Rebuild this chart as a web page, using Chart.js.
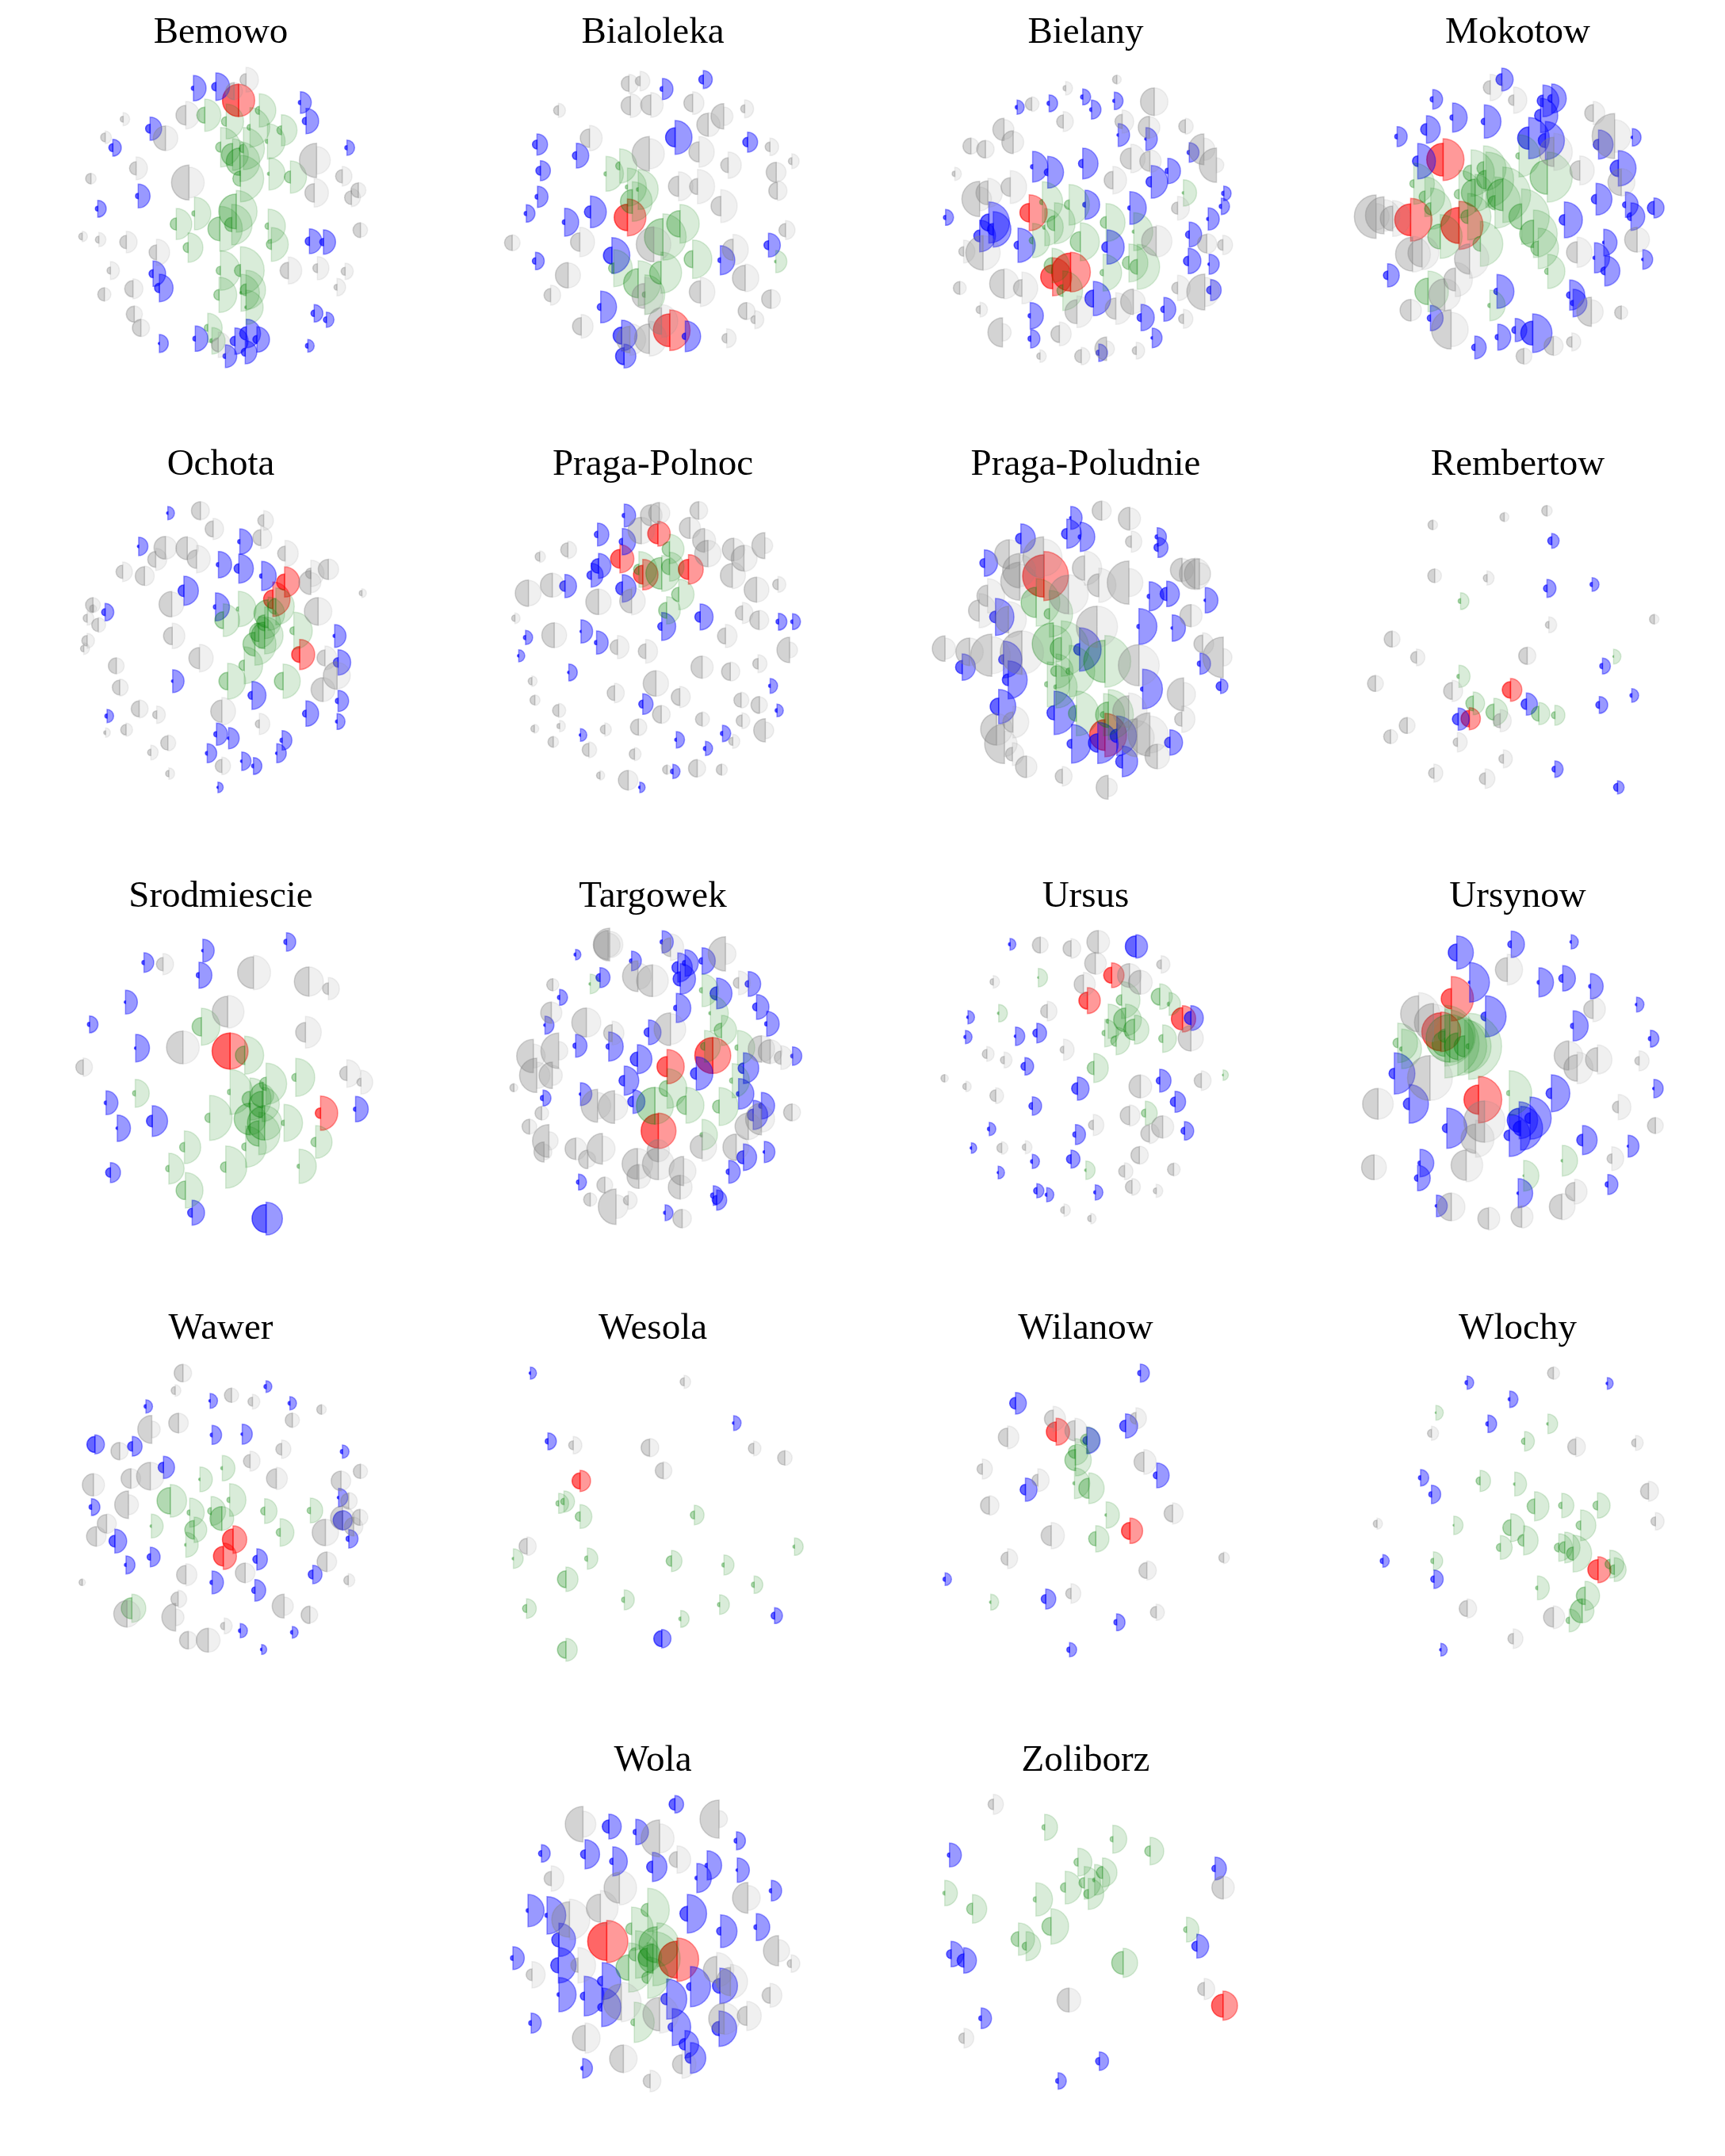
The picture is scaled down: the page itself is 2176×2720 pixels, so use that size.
<!DOCTYPE html>
<html>
<head>
<meta charset="utf-8">
<title>Warsaw districts</title>
<script src="https://cdn.jsdelivr.net/npm/chart.js@4"></script>
<style>
  body { margin: 0; background: #fff; }
  canvas { position: absolute; }
</style>
</head>
<body>
<script>
const districts = ["Bemowo","Bialoleka","Bielany","Mokotow","Ochota","Praga-Polnoc","Praga-Poludnie","Rembertow","Srodmiescie","Targowek","Ursus","Ursynow","Wawer","Wesola","Wilanow","Wlochy","Wola","Zoliborz"];

const bemowoGrey = [[751,302,23,47],[523,436,37,52],[286,451,11,25],[218,520,17,24],[446,523,46,47],[335,637,25,43],[164,676,20,20],[535,691,66,58],[1018,607,65,52],[1115,667,25,37],[1176,720,28,29],[1150,748,26,34],[1009,730,35,54],[1184,871,28,27],[131,895,13,20],[194,907,13,27],[298,916,25,41],[412,955,28,50],[911,1024,31,51],[1021,1015,17,44],[1126,1027,15,31],[1095,1087,11,33],[238,1024,13,34],[323,1093,31,38],[215,1114,25,25],[328,1189,30,31],[353,1241,32,33],[646,1305,26,48],[706,345,32,32]];
const bemowoGreen = [[595,436,30,61],[676,460,18,66],[801,418,15,63],[766,482,11,75],[885,493,17,59],[655,557,19,75],[741,562,16,80],[832,535,8,67],[700,585,42,60],[728,612,52,75],[730,676,29,88],[838,658,6,61],[919,670,23,61],[714,800,66,79],[697,850,27,77],[556,808,10,62],[487,848,23,59],[652,866,45,85],[835,856,12,65],[847,925,19,64],[532,937,19,56],[654,1024,16,75],[730,1024,23,90],[649,1116,20,67],[751,1097,22,74],[732,1108,5,70],[751,1163,5,65],[606,1241,13,55],[622,1290,8,50]];
const bemowoBlue = [[552,334,8,48],[637,328,16,52],[957,388,8,41],[978,458,14,48],[388,487,17,44],[247,559,15,32],[1133,559,8,29],[343,742,10,45],[190,790,9,32],[991,913,16,47],[1044,916,14,46],[399,1036,15,48],[423,1090,18,52],[1009,1186,12,33],[1055,1210,11,29],[423,1300,4,34],[559,1282,9,48],[752,1262,25,54],[709,1291,18,50],[792,1285,15,48],[673,1348,9,43],[748,1333,15,44],[985,1309,9,24]];
const bemowoRed = [[723,380,61,61]];

const bialolekaGrey = [[283,107,29,36],[306,97,18,37],[286,190,35,45],[328,187,38,47],[414,180,33,43],[138,208,18,27],[478,230,48,35],[446,262,43,45],[521,202,15,34],[202,313,35,48],[325,372,65,57],[427,365,38,58],[573,346,18,33],[487,415,28,50],[618,400,13,28],[586,442,38,37],[588,512,32,37],[385,495,38,55],[424,496,30,65],[472,570,37,62],[605,661,25,36],[43,709,29,30],[182,706,35,56],[334,715,66,65],[497,735,40,58],[158,832,48,47],[522,842,48,52],[122,907,25,38],[430,895,42,55],[315,910,47,70],[575,922,35,36],[525,967,32,32],[542,1000,15,34],[185,1025,33,45],[350,1005,50,62],[325,1072,56,66],[484,1070,18,36],[285,1075,50,60]];
const bialolekaGreen = [[236,448,8,66],[264,418,15,65],[280,498,8,72],[302,507,7,76],[290,553,45,75],[353,687,70,88],[388,637,50,73],[414,771,32,73],[585,780,5,42],[349,822,43,78],[252,805,20,70],[302,862,55,85],[316,905,10,75]];
const bialolekaBlue = [[436,91,17,34],[352,127,9,40],[378,310,36,64],[527,328,18,38],[94,337,17,40],[175,379,15,47],[101,436,17,38],[95,535,9,40],[72,598,8,33],[204,592,23,60],[151,631,9,53],[248,757,32,68],[91,778,12,33],[570,718,17,45],[471,775,9,55],[225,952,13,60],[268,1060,32,58],[399,1063,12,58],[273,1138,32,45]];
const bialolekaRed = [[280,613,50,70],[367,1040,62,77]];

const bielanyGrey = [[1285,91,16,17],[1180,124,10,26],[1110,184,24,28],[1362,175,52,52],[1175,250,25,38],[1053,280,42,38],[1072,328,43,40],[1296,250,27,44],[1352,272,42,40],[1426,268,25,30],[985,343,30,30],[1015,355,33,33],[1464,355,58,42],[1490,415,65,28],[1314,390,40,54],[1353,400,38,43],[952,448,10,25],[1277,472,33,52],[1066,498,35,62],[1003,543,67,45],[1020,520,45,55],[1410,578,23,45],[1366,703,55,60],[1010,747,65,65],[970,742,18,43],[1470,712,35,38],[1503,717,20,37],[1053,864,54,57],[1090,880,32,60],[962,880,24,25],[1410,880,22,48],[1466,895,68,55],[1203,970,45,60],[1283,958,40,60],[1319,932,48,45],[1004,962,15,28],[1422,997,18,36],[1050,1048,55,33],[1167,1054,32,45],[1264,1110,44,30],[1127,1138,12,24],[1212,1138,25,33],[1325,1117,15,32]];
const bielanyGreen = [[1132,555,10,77],[1187,565,18,77],[1422,520,5,50],[1263,632,22,72],[1157,635,28,78],[1137,650,8,70],[1210,705,38,72],[1320,667,6,72],[1112,700,13,65],[1152,795,30,65],[1257,822,12,70],[1310,785,25,72],[1327,800,28,85],[1174,890,22,75]];
const bielanyBlue = [[1080,196,7,27],[1146,181,8,32],[1215,157,8,30],[1233,205,7,36],[1280,172,6,33],[1288,301,5,43],[1345,316,5,43],[1434,367,8,37],[1112,421,8,58],[1143,442,13,60],[1215,409,16,58],[1390,437,10,48],[1356,478,20,62],[1505,522,8,28],[1500,571,8,31],[1220,565,9,55],[1312,577,8,62],[933,613,8,30],[1022,632,32,78],[1031,658,22,67],[1003,683,22,60],[1473,619,6,42],[1434,678,14,47],[1082,718,15,65],[1265,725,20,65],[1432,778,18,48],[1475,790,5,38],[1478,888,15,40],[1237,920,32,65],[1107,985,8,50],[1382,961,12,45],[1335,992,15,50],[1108,1072,10,35],[1358,1069,5,37],[1248,1125,10,33]];
const bielanyRed = [[1105,595,35,68],[1153,838,45,72],[1190,820,72,75]];

const mokotowGrey = [[569,121,26,50],[658,169,20,50],[959,218,32,44],[1040,305,85,62],[908,435,37,55],[1065,480,50,52],[810,365,55,70],[137,610,82,50],[167,605,70,60],[200,617,47,68],[275,752,64,68],[311,747,53,64],[491,770,57,73],[437,848,43,65],[397,905,60,60],[898,745,40,57],[1125,697,47,47],[269,964,41,40],[421,1037,74,65],[952,970,55,45],[1065,973,25,25],[808,1099,35,37],[878,1084,20,34],[696,1138,29,31]];
const mokotowGreen = [[280,485,15,78],[322,535,22,75],[344,580,23,78],[380,685,47,83],[497,445,30,88],[544,427,25,85],[553,470,35,105],[512,520,52,70],[451,525,18,90],[484,610,26,88],[617,527,60,105],[587,557,27,97],[678,380,12,80],[785,460,65,95],[688,610,48,105],[733,675,52,90],[751,730,28,77],[787,817,12,65],[532,713,28,85],[334,893,50,77],[568,946,8,58]];
const mokotowBlue = [[613,91,22,43],[352,166,10,37],[427,235,10,55],[547,250,12,63],[328,280,22,52],[217,307,9,38],[769,172,22,60],[802,163,15,55],[760,227,23,65],[715,313,42,78],[778,322,27,72],[979,337,20,55],[1107,310,5,33],[295,400,20,67],[1054,427,31,67],[970,544,18,60],[1081,565,11,48],[1102,610,15,52],[1189,577,25,38],[850,622,20,68],[999,708,5,50],[964,766,6,57],[1003,815,15,57],[1147,772,5,37],[181,832,16,44],[595,893,12,64],[870,907,12,57],[883,937,10,52],[343,994,12,48],[511,1105,12,43],[598,1066,10,49],[664,1039,13,44],[730,1051,45,73]];
const mokotowRed = [[391,394,62,79],[268,622,60,81],[451,643,68,91]];

const ochotaGrey = [[298,73,34,34],[324,142,30,40],[428,110,22,37],[422,175,30,42],[226,213,43,43],[206,257,30,42],[271,215,43,42],[290,256,35,52],[472,235,28,50],[138,304,25,37],[183,320,35,37],[525,345,45,38],[561,295,38,39],[525,310,20,50],[239,427,48,46],[540,454,52,52],[77,430,28,28],[78,443,14,12],[65,480,15,26],[88,505,25,28],[240,547,33,48],[65,565,20,28],[58,595,12,22],[296,631,40,52],[125,660,30,30],[554,630,30,45],[579,697,52,50],[550,750,45,45],[132,742,28,32],[172,823,30,34],[208,845,15,33],[342,832,42,52],[419,880,15,40],[145,902,20,25],[103,913,7,18],[231,952,27,30],[196,988,12,28],[342,1039,25,33],[233,1068,12,22],[630,385,10,17]];
const ochotaGreen = [[376,445,8,67],[345,487,32,62],[437,463,53,63],[453,435,30,70],[490,527,15,70],[418,533,35,60],[430,545,50,70],[410,578,45,80],[388,658,20,70],[354,718,33,68],[468,718,33,65],[430,497,30,60]];
const ochotaBlue = [[231,82,5,25],[171,208,5,35],[379,190,8,48],[335,277,8,50],[377,292,18,55],[424,320,8,55],[264,376,22,55],[329,437,8,53],[102,457,13,33],[574,547,6,43],[581,647,18,48],[241,718,5,43],[404,772,15,53],[581,793,10,40],[515,841,13,48],[106,850,8,25],[579,871,6,30],[331,919,10,42],[356,934,5,40],[466,942,8,37],[312,991,7,36],[455,991,5,36],[383,1021,5,35],[407,1039,7,32],[334,1120,4,20]];
const ochotaRed = [[471,343,30,57],[447,408,35,65],[502,617,30,57]];

const pragaPolnocGrey = [[1242,82,40,40],[1225,90,40,42],[1323,72,33,34],[1205,148,50,50],[1305,138,40,40],[1335,185,45,42],[1342,235,50,50],[1395,220,43,42],[1416,253,48,50],[1459,205,49,30],[996,247,17,22],[1054,221,27,33],[1392,318,45,50],[1022,355,45,45],[973,385,50,48],[1117,418,48,48],[1185,415,45,52],[1442,372,47,47],[1486,352,20,30],[1413,460,27,40],[1447,487,35,37],[945,480,12,20],[1026,544,47,47],[1378,547,30,44],[1156,589,28,44],[1214,605,28,45],[1510,600,48,30],[1330,665,42,42],[1445,652,20,34],[1388,682,33,36],[980,718,14,20],[1235,727,48,48],[1150,763,28,37],[1284,778,32,40],[1410,790,27,30],[1448,808,32,30],[986,790,18,20],[1035,829,23,27],[1246,844,33,34],[1412,868,22,30],[1330,862,25,28],[1199,892,30,32],[1460,904,44,32],[985,898,13,17],[1037,888,10,22],[1130,901,17,25],[1393,946,15,27],[1024,948,20,20],[1097,978,25,30],[1191,994,20,25],[1320,1048,33,32],[1370,1053,20,22],[1258,1053,17,17],[1120,1075,13,18],[1178,1093,37,37]];
const pragaPolnocGreen = [[1200,295,20,68],[1263,218,28,55],[1247,310,60,68],[1263,285,30,55],[1282,390,27,58],[1257,450,30,52]];
const pragaPolnocBlue = [[1170,91,8,43],[1115,163,12,43],[1166,190,12,50],[1117,282,28,47],[1102,317,16,45],[1048,358,20,44],[1166,367,25,52],[1326,475,20,49],[1247,511,15,53],[1487,493,9,32],[1516,493,7,30],[967,553,8,27],[1081,530,4,44],[1113,572,8,44],[953,622,5,23],[1056,685,5,32],[1470,736,6,28],[1208,805,15,39],[1484,829,7,24],[1372,916,8,31],[1277,940,6,31],[1337,973,8,27],[1080,922,5,24],[1270,1060,9,27],[1202,1120,5,20]];
const pragaPolnocRed = [[1239,160,38,47],[1161,255,35,53],[1208,315,35,58],[1302,295,38,56]];

const pragaPoludnieGrey = [[718,73,36,36],[824,103,43,41],[830,190,22,40],[368,238,55,55],[498,250,78,70],[408,300,65,60],[408,340,72,65],[653,290,46,65],[707,355,43,65],[821,345,82,53],[1022,297,44,43],[1070,312,58,60],[1088,312,57,42],[286,395,40,65],[254,451,40,65],[592,390,73,75],[365,485,50,68],[700,512,78,78],[125,595,48,40],[218,607,52,52],[302,620,80,70],[416,610,82,82],[859,658,78,77],[1056,470,42,42],[1100,577,33,42],[1178,628,77,33],[1028,768,62,45],[1021,862,27,50],[820,833,60,70],[382,873,38,60],[320,900,60,60],[350,955,75,48],[380,994,26,43],[433,1042,41,40],[569,1078,27,37],[742,1120,45,35],[928,1003,46,47],[852,932,72,65],[900,920,82,70]];
const pragaPoludnieGreen = [[470,420,57,90],[520,463,20,88],[535,577,80,70],[565,595,42,105],[545,680,20,65],[512,730,10,85],[595,680,12,97],[622,840,30,85],[730,643,80,98],[743,845,48,95],[725,845,12,80],[545,740,8,80]];
const pragaPoludnieBlue = [[601,100,5,43],[586,160,20,55],[637,172,8,55],[412,178,20,55],[928,172,8,35],[931,212,15,38],[274,271,17,50],[898,397,8,55],[964,388,25,48],[1110,412,5,48],[859,511,8,68],[985,517,5,50],[316,475,22,70],[634,598,22,82],[190,665,25,50],[346,636,18,70],[1090,652,10,40],[364,713,22,72],[873,748,8,75],[1168,737,17,28],[328,814,32,65],[538,838,27,82],[976,950,20,48],[604,955,17,73],[703,952,35,78],[775,925,25,75],[796,1022,25,58]];
const pragaPoludnieRed = [[499,320,80,93],[730,922,58,82]];

const rembertowGrey = [[352,127,18,18],[622,97,16,18],[784,73,20,20],[359,319,26,26],[557,328,14,27],[198,559,30,30],[1190,484,18,18],[791,505,13,30],[709,622,32,33],[290,628,22,32],[135,727,30,30],[425,755,32,40],[255,886,30,30],[192,928,26,27],[445,949,16,37],[607,868,27,42],[619,1012,17,34],[356,1066,20,34],[550,1087,22,37]];
const rembertowGreen = [[1036,625,3,28],[451,700,8,42],[505,802,28,43],[583,835,30,52],[753,841,28,42],[814,847,13,38],[457,415,9,32]];
const rembertowBlue = [[802,187,15,28],[784,367,13,34],[955,352,8,26],[994,661,10,30],[1105,772,7,26],[982,808,13,32],[706,805,20,42],[448,862,22,42],[814,1051,11,31],[1051,1120,15,25]];
const rembertowRed = [[646,751,31,43],[490,860,31,42]];

const srodmiescieGrey = [[221,169,25,40],[407,201,60,65],[521,235,55,55],[561,262,22,42],[354,349,58,62],[514,427,37,60],[262,484,62,62],[57,559,28,35],[599,583,27,52],[628,616,15,45]];
const srodmiescieGreen = [[300,406,35,70],[389,514,35,72],[433,622,25,78],[359,653,10,85],[494,598,15,72],[164,658,10,53],[317,751,18,85],[400,680,30,80],[427,665,48,40],[425,700,50,65],[400,755,60,60],[430,770,65,65],[470,770,10,70],[418,810,48,80],[391,860,15,78],[535,842,18,62],[265,862,18,62],[350,937,20,80],[501,934,8,65],[233,943,12,58],[267,1025,35,67]];
const srodmiescieBlue = [[303,118,5,43],[475,85,10,35],[182,163,8,37],[295,211,10,49],[144,313,5,45],[70,397,8,32],[165,487,5,52],[104,694,7,45],[617,718,8,48],[199,763,22,58],[127,790,5,50],[113,958,18,38],[281,1110,17,47],[433,1132,53,62]];
const srodmiescieRed = [[359,498,68,68],[545,733,20,65]];

const targowekGrey = [[1140,95,62,50],[1137,97,55,45],[1265,105,35,50],[1378,130,65,40],[1198,215,58,50],[1228,232,60,60],[1023,247,23,23],[1405,240,20,45],[1020,353,40,40],[1092,390,55,55],[1145,430,32,45],[1265,415,62,58],[1452,490,50,50],[1470,500,45,45],[1492,523,25,45],[983,517,63,45],[1035,497,67,35],[990,590,65,50],[1022,590,50,38],[943,637,15,15],[1115,705,62,50],[1150,710,62,50],[1000,733,25,27],[975,784,28,28],[1015,838,62,35],[1005,880,38,30],[1070,868,40,42],[1095,908,35,30],[1125,868,58,48],[1197,925,58,58],[1200,973,45,45],[1240,925,60,60],[1292,952,55,47],[1285,1013,45,45],[1240,875,42,42],[1330,860,45,55],[1400,862,50,48],[1425,783,50,50],[1452,755,60,50],[1515,730,32,32],[1130,1005,30,30],[1100,1060,25,25],[1153,1087,67,45],[1178,1063,18,34],[1289,1132,35,35]];
const targowekGreen = [[1100,244,5,37],[1330,268,10,62],[1347,355,6,68],[1370,420,28,57],[1335,480,15,60],[1403,485,10,65],[1233,705,70,70],[1392,610,10,65],[1258,640,30,75],[1297,703,35,68],[1365,708,25,72],[1330,815,8,58]];
const targowekBlue = [[1070,133,6,20],[1185,157,8,37],[1248,85,8,42],[1280,182,22,55],[1295,165,10,50],[1330,157,12,50],[1285,225,27,58],[1120,220,15,38],[1425,244,12,47],[1037,295,8,30],[1360,280,25,58],[1442,331,15,47],[1277,335,10,55],[1463,395,8,47],[1007,400,5,34],[1220,427,17,47],[1070,478,10,43],[1138,481,10,55],[1516,517,7,35],[1197,529,27,55],[1415,563,20,58],[1170,610,20,55],[1318,583,22,63],[1080,661,5,43],[1405,660,8,58],[1188,689,20,45],[1003,676,10,30],[1452,705,10,50],[1435,740,22,55],[1415,900,25,50],[1458,880,5,40],[1385,955,10,43],[1076,994,8,30],[1353,1045,10,37],[1360,1062,17,38],[1254,1110,6,30]];
const targowekRed = [[1352,515,68,68],[1258,557,38,65],[1240,800,65,67]];

const ursusGrey = [[243,97,30,30],[305,110,30,37],[360,85,43,43],[354,166,40,42],[487,170,17,33],[148,236,12,24],[330,245,35,45],[423,212,45,45],[445,238,45,45],[257,347,25,37],[547,450,48,47],[290,493,13,40],[135,509,17,28],[170,532,14,30],[445,632,43,43],[568,610,27,37],[50,601,14,14],[93,632,12,20],[153,667,22,30],[423,742,35,40],[350,778,18,40],[490,785,42,42],[463,810,32,38],[165,865,18,24],[213,862,12,25],[443,892,32,34],[413,953,22,32],[512,946,23,25],[428,1012,25,32],[477,1027,11,25],[291,1100,13,24],[345,1132,12,20]];
const ursusGreen = [[239,220,3,35],[159,355,5,33],[407,305,20,70],[484,292,32,48],[503,320,7,43],[380,385,8,65],[415,380,45,60],[433,417,40,55],[373,430,10,52],[396,460,20,52],[490,451,15,52],[351,562,25,55],[612,589,3,20],[455,733,15,45],[335,949,5,35]];
const ursusBlue = [[182,94,6,22],[436,102,40,44],[97,370,5,25],[92,445,6,25],[193,442,5,35],[236,430,15,37],[212,556,15,33],[318,640,22,44],[484,610,13,43],[515,690,18,40],[227,706,13,35],[140,793,7,25],[314,814,10,38],[534,800,13,35],[104,865,5,20],[305,907,17,34],[227,916,7,27],[158,958,4,24],[236,1027,12,27],[256,1042,6,27],[354,1033,6,29],[547,373,25,47]];
const ursusRed = [[387,211,30,47],[338,307,32,49],[530,376,42,50]];

const ursynowGrey = [[1186,190,45,58],[1359,340,35,47],[1007,357,68,80],[1037,390,72,70],[1310,515,55,53],[1327,562,50,60],[1368,530,45,55],[1452,535,16,38],[1030,600,85,85],[925,698,58,58],[1410,710,22,48],[1485,780,30,30],[1140,765,78,78],[1122,830,55,70],[917,938,47,47],[1103,930,57,63],[1397,905,18,45],[1322,1030,35,47],[1073,1088,52,52],[1148,1132,40,43],[1215,1125,40,43],[1296,1087,47,50]];
const ursynowGreen = [[965,467,18,75],[973,490,8,75],[1060,470,48,130],[1070,450,90,90],[1086,480,50,110],[1108,480,10,125],[1100,480,40,100],[1060,440,25,115],[1190,657,10,85],[1297,913,5,58],[1219,970,3,58]];
const ursynowBlue = [[1084,125,32,63],[1194,94,13,50],[1315,85,5,27],[1110,238,5,75],[1250,238,7,55],[1298,223,15,48],[1354,253,7,48],[1447,322,5,28],[1142,367,17,78],[1319,403,10,57],[1475,451,8,32],[958,583,20,78],[988,698,22,73],[1275,658,20,70],[1482,640,5,35],[1210,760,45,70],[1232,752,20,80],[1190,817,20,80],[1213,790,28,83],[1064,790,17,76],[1338,835,22,55],[1430,858,4,41],[1010,922,8,52],[1005,979,12,48],[1389,1003,10,38],[1208,1036,5,55],[1043,1084,5,41]];
const ursynowRed = [[1073,300,38,84],[1052,425,72,75],[1128,682,55,88]];

const wawerGrey = [[262,67,33,33],[246,133,15,22],[362,151,27,27],[405,175,17,28],[547,205,18,18],[253,256,37,37],[198,280,53,32],[487,245,27,27],[132,362,33,32],[400,400,25,38],[465,355,22,35],[627,439,27,27],[195,457,52,52],[155,466,37,37],[454,466,37,42],[587,475,37,37],[78,490,42,42],[150,565,52,38],[603,551,30,32],[105,637,35,37],[590,615,45,45],[613,648,35,35],[626,613,30,30],[84,685,37,37],[555,670,50,50],[558,781,37,37],[268,830,35,42],[390,823,37,37],[602,851,17,25],[55,859,12,12],[252,922,27,33],[147,978,50,50],[247,991,52,32],[470,949,45,35],[523,982,33,30],[347,1024,14,30],[273,1078,33,33],[314,1078,45,45]];
const wawerGreen = [[343,427,6,48],[297,469,5,47],[236,550,50,62],[276,595,10,55],[320,589,13,55],[358,547,10,62],[342,617,45,45],[430,589,15,47],[524,587,12,47],[197,646,5,45],[285,660,35,48],[268,717,5,47],[462,670,15,52],[157,957,40,53]];
const wawerBlue = [[433,118,8,22],[318,172,5,28],[482,181,7,25],[186,193,7,25],[322,301,7,36],[384,298,5,38],[81,337,30,36],[158,344,18,37],[590,364,8,25],[222,424,20,42],[582,538,5,35],[74,574,9,32],[590,624,35,37],[122,703,22,45],[603,694,10,35],[195,763,12,37],[145,793,6,34],[414,772,15,40],[529,829,17,35],[322,859,8,43],[410,889,12,41],[380,1042,7,27],[487,1048,7,22],[424,1113,5,19]];
const wawerRed = [[365,697,40,52],[345,760,37,50]];

const wesolaGrey = [[1293,100,15,25],[1065,340,17,33],[1222,349,32,35],[1436,352,20,28],[1500,388,27,28],[1250,436,30,33],[970,722,30,35]];
const wesolaGreen = [[1035,560,10,38],[1046,553,12,40],[1079,610,18,45],[1314,604,15,37],[1520,724,6,33],[942,769,5,37],[1094,769,10,40],[1267,778,20,40],[1375,793,8,38],[1050,847,32,46],[1437,868,10,33],[1170,925,10,38],[1366,943,8,37],[969,958,15,37],[1286,997,7,32],[1050,1114,32,43]];
const wesolaBlue = [[977,67,5,23],[1395,256,5,28],[1013,325,10,32],[1479,985,13,30],[1247,1072,30,35]];
const wesolaRed = [[1079,475,30,40]];

const wilanowGrey = [[269,240,33,47],[177,310,35,43],[436,238,22,40],[313,285,38,47],[452,403,37,47],[126,430,20,38],[238,472,22,43],[140,568,33,37],[510,598,32,40],[265,682,38,50],[177,769,25,38],[458,814,30,36],[305,901,20,37],[613,766,18,22],[477,972,22,31]];
const wilanowGreen = [[336,320,22,50],[313,365,25,50],[314,396,40,60],[312,484,6,58],[341,503,38,58],[376,604,5,50],[355,694,27,50],[143,934,5,30]];
const wilanowBlue = [[445,67,10,34],[193,181,22,41],[415,267,22,46],[337,322,15,50],[478,454,13,47],[213,508,20,44],[51,847,8,24],[254,922,17,38],[397,1010,10,32],[302,1114,10,27]];
const wilanowRed = [[275,289,37,51],[424,664,32,48]];

const wlochyGrey = [[1279,67,22,24],[1033,295,15,27],[1324,346,30,37],[1445,331,15,29],[1471,514,30,38],[1485,628,17,33],[923,637,14,21],[1105,958,30,36],[1279,991,37,43],[1198,1072,20,37]];
const wlochyGreen = [[1042,217,3,28],[1268,259,5,37],[1221,325,12,37],[1131,475,15,40],[1201,487,5,45],[1241,571,28,55],[1296,568,12,46],[1368,568,17,48],[1334,643,17,58],[1078,643,3,35],[1193,652,30,53],[1219,700,22,55],[1172,727,15,45],[1290,727,17,52],[1302,727,22,58],[1319,750,25,70],[1393,790,18,53],[1402,811,18,45],[1037,778,10,35],[1247,880,7,45],[1343,910,33,55],[1337,967,45,45],[1311,1003,12,43]];
const wlochyBlue = [[1105,103,8,25],[1388,106,5,22],[1191,166,6,31],[1147,259,8,33],[1011,463,8,31],[1033,526,10,35],[935,778,10,24],[1038,847,12,35],[1052,1114,5,24]];
const wlochyRed = [[1369,811,38,49]];

const wolaGrey = [[407,304,67,49],[922,285,72,32],[697,358,70,55],[763,438,30,52],[287,510,27,48],[545,545,58,65],[1031,583,58,47],[473,622,53,67],[356,665,67,77],[1147,783,57,42],[1195,832,15,33],[388,838,27,67],[214,874,22,50],[913,855,50,65],[965,900,53,65],[1115,952,30,45],[552,977,68,75],[697,1023,63,72],[941,1040,58,60],[1027,1030,36,55],[415,1114,48,57],[560,1192,52,52],[782,1213,36,53],[661,1276,26,41]];
const wolaGreen = [[652,629,25,82],[591,700,22,82],[687,760,68,83],[606,797,25,90],[580,847,48,93],[672,813,55,103],[652,885,22,78],[601,1054,13,76],[650,808,35,55]];
const wolaBlue = [[755,229,22,33],[505,313,25,47],[607,334,10,48],[988,367,9,34],[250,415,11,33],[415,418,17,55],[520,445,12,55],[670,466,22,55],[877,460,8,55],[991,478,5,46],[838,508,7,55],[1120,556,8,39],[199,631,7,61],[271,649,8,71],[802,643,28,73],[928,709,15,62],[1063,694,9,51],[316,742,27,63],[142,811,9,43],[314,838,29,67],[480,898,18,70],[814,919,15,76],[925,916,28,67],[316,949,7,65],[412,955,15,75],[478,997,15,73],[724,966,22,76],[211,1057,9,38],[745,1072,16,70],[922,1078,27,67],[793,1137,22,52],[814,1189,20,58],[406,1228,7,37]];
const wolaRed = [[497,748,72,80],[763,817,70,82]];

const zoliborzGrey = [[308,49,20,38],[1178,364,43,42],[594,790,45,45],[1106,748,25,40],[197,934,20,37]];
const zoliborzGreen = [[502,136,10,49],[760,181,10,53],[901,226,20,52],[628,268,15,53],[721,307,23,55],[691,335,7,58],[652,346,20,62],[580,364,18,62],[667,388,17,59],[124,385,7,48],[469,409,10,63],[229,445,22,54],[526,511,34,67],[403,559,28,61],[432,586,15,55],[1039,523,11,47],[799,649,43,55]];
const zoliborzBlue = [[142,241,8,45],[1147,292,12,43],[148,616,17,48],[196,640,25,48],[1078,586,19,45],[262,859,9,39],[709,1021,14,35],[553,1096,9,31]];
const zoliborzRed = [[1177,811,43,55]];

const panelMarks = [
  [bemowoGrey, bemowoGreen, bemowoBlue, bemowoRed],
  [bialolekaGrey, bialolekaGreen, bialolekaBlue, bialolekaRed],
  [bielanyGrey, bielanyGreen, bielanyBlue, bielanyRed],
  [mokotowGrey, mokotowGreen, mokotowBlue, mokotowRed],
  [ochotaGrey, ochotaGreen, ochotaBlue, ochotaRed],
  [pragaPolnocGrey, pragaPolnocGreen, pragaPolnocBlue, pragaPolnocRed],
  [pragaPoludnieGrey, pragaPoludnieGreen, pragaPoludnieBlue, pragaPoludnieRed],
  [rembertowGrey, rembertowGreen, rembertowBlue, rembertowRed],
  [srodmiescieGrey, srodmiescieGreen, srodmiescieBlue, srodmiescieRed],
  [targowekGrey, targowekGreen, targowekBlue, targowekRed],
  [ursusGrey, ursusGreen, ursusBlue, ursusRed],
  [ursynowGrey, ursynowGreen, ursynowBlue, ursynowRed],
  [wawerGrey, wawerGreen, wawerBlue, wawerRed],
  [wesolaGrey, wesolaGreen, wesolaBlue, wesolaRed],
  [wilanowGrey, wilanowGreen, wilanowBlue, wilanowRed],
  [wlochyGrey, wlochyGreen, wlochyBlue, wlochyRed],
  [wolaGrey, wolaGreen, wolaBlue, wolaRed],
  [zoliborzGrey, zoliborzGreen, zoliborzBlue, zoliborzRed]
];

// [page x, page y, x stretch] of the reference crop the numbers of each panel were read in
const readFrames = [
  [60,0,3],[620,70,1.63],[620,70,1.63],[1690,70,3],
  [70,620,1.63],[70,620,1.63],[1150,620,3],[1690,620,3],
  [70,1160,1.63],[70,1160,1.63],[1160,1160,1.6],[1160,1160,1.6],
  [70,1710,1.63],[70,1710,1.63],[1160,1710,1.6],[1160,1710,1.6],
  [600,2200,3],[1150,2260,3]
];

const panelCols = [0,1,2,3, 0,1,2,3, 0,1,2,3, 0,1,2,3, 1,2];
const panelRows = [0,0,0,0, 1,1,1,1, 2,2,2,2, 3,3,3,3, 4,4];

// [rgb, left alpha, right alpha]
const colours = [["128,128,128",0.35,0.12],["0,128,0",0.3,0.15],["0,0,255",0.6,0.4],["255,0,0",0.6,0.4]];

const PANEL = 545;
const TITLE_SIZE = 47;
const TITLE_TOP = 13;
const AREA_TOP = TITLE_TOP + TITLE_SIZE * 1.2;

// half disc, the side comes from the dataset
class HalfDisc extends Chart.PointElement {
  static id = "halfDisc";
  draw(ctx) {
    const o = this.options;
    const start = this.side === "left" ? Math.PI / 2 : -Math.PI / 2;
    ctx.save();
    ctx.beginPath();
    ctx.arc(this.x, this.y, o.radius, start, start + Math.PI);
    ctx.closePath();
    ctx.fillStyle = o.backgroundColor;
    ctx.fill();
    ctx.lineWidth = o.borderWidth;
    ctx.strokeStyle = o.borderColor;
    ctx.stroke();
    ctx.restore();
  }
}

class HalfBubble extends Chart.BubbleController {
  static id = "halfBubble";
  static defaults = { dataElementType: "halfDisc" };
  updateElements(points, start, count, mode) {
    super.updateElements(points, start, count, mode);
    const side = this.getDataset().side;
    points.forEach(p => { p.side = side; });
  }
}

Chart.register(HalfDisc, HalfBubble);

districts.forEach((name, i) => {
  const canvas = document.createElement("canvas");
  const left = 6 + panelCols[i] * 545.3;
  const top = panelRows[i] * 545;
  canvas.width = PANEL;
  canvas.height = PANEL;
  canvas.style.left = left + "px";
  canvas.style.top = top + "px";
  document.body.appendChild(canvas);

  const [fx, fy, sx] = readFrames[i];
  const datasets = [];
  panelMarks[i].forEach((marks, c) => {
    const [rgb, aLeft, aRight] = colours[c];
    ["left", "right"].forEach((side, s) => {
      const col = `rgba(${rgb},${s === 0 ? aLeft : aRight})`;
      datasets.push({
        side: side,
        clip: false,
        backgroundColor: col,
        borderColor: col,
        borderWidth: 1.5,
        data: marks.map(m => ({ x: m[0], y: m[1], r: m[2 + s] / 3 }))
      });
    });
  });

  new Chart(canvas, {
    type: "halfBubble",
    data: { datasets: datasets },
    options: {
      responsive: false,
      devicePixelRatio: 1,
      animation: false,
      events: [],
      layout: { padding: 0, autoPadding: false },
      plugins: {
        legend: { display: false },
        tooltip: { enabled: false },
        title: {
          display: true,
          text: name,
          color: "#000",
          padding: { top: TITLE_TOP, bottom: 0 },
          font: { family: "Liberation Serif", size: TITLE_SIZE, weight: "normal", lineHeight: 1.2 }
        }
      },
      scales: {
        x: { type: "linear", display: false, min: (left - fx) * sx, max: (left + PANEL - fx) * sx },
        y: { type: "linear", display: false, reverse: true, min: (top + AREA_TOP - fy) * 3, max: (top + PANEL - fy) * 3 }
      }
    }
  });
});
</script>
</body>
</html>
